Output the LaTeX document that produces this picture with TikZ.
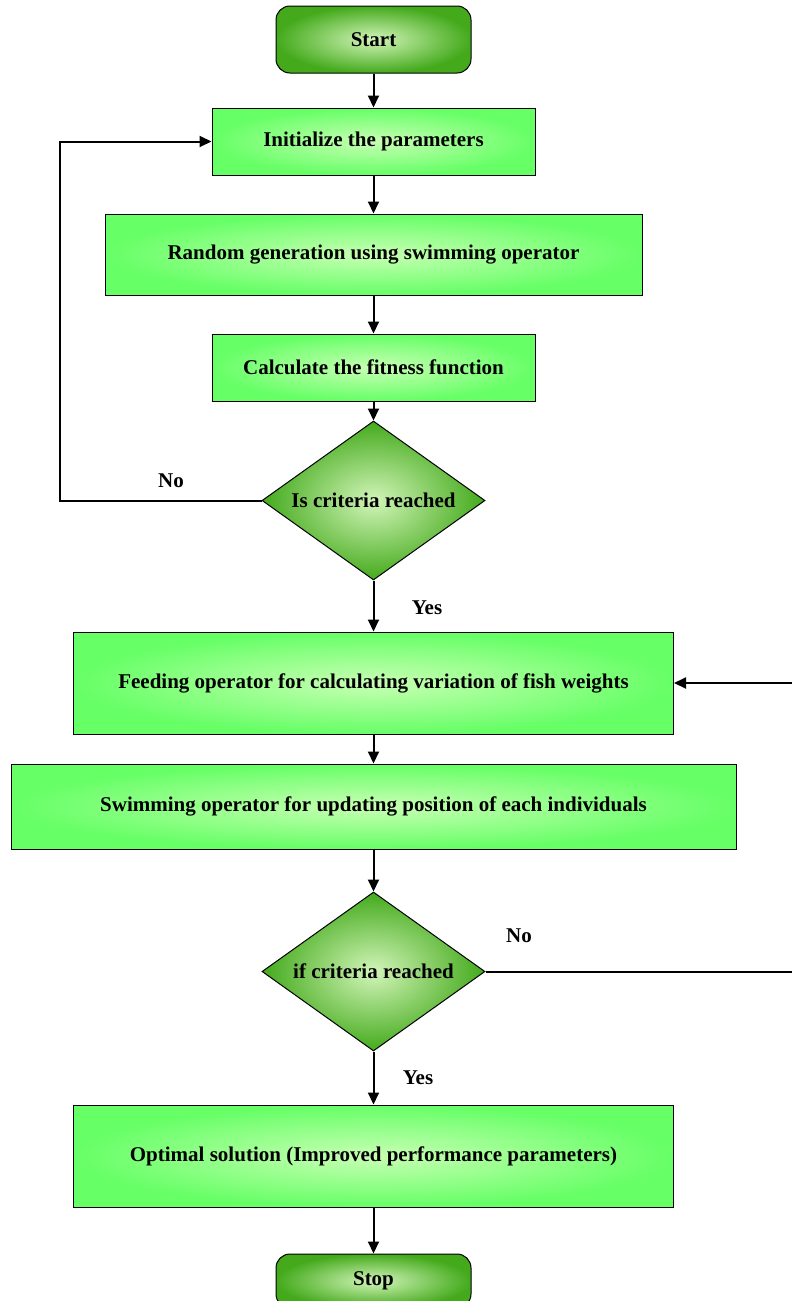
\documentclass[tikz,border=0pt]{standalone}
\usepackage{fontspec}
\setmainfont{Liberation Serif}
\usetikzlibrary{shapes.geometric,arrows.meta}
\definecolor{boxin}{HTML}{C8FFB4}
\definecolor{boxout}{HTML}{66FF66}
\definecolor{termin}{HTML}{D2F5B9}
\definecolor{termout}{HTML}{44AA1C}

\begin{document}
\begin{tikzpicture}[x=0.5pt,y=-0.5pt,
    font=\fontsize{10.5}{12.6}\selectfont\bfseries,
    box/.style={draw,line width=0.5pt,inner color=boxin,outer color=boxout,align=center},
    term/.style={draw,line width=0.5pt,rounded corners=7pt,inner color=termin,outer color=termout,
      minimum width=97.5pt,minimum height=33.5pt},
    decide/.style={draw,diamond,aspect=1.4,line width=0.5pt,inner color=termin,outer color=termout,
      minimum width=111.5pt,minimum height=79.5pt,inner sep=0pt},
    arr/.style={line width=1pt,-{Triangle[length=6pt,width=5.5pt]}}]
          \useasboundingbox (0,0) rectangle (792,1301);
          \node[term] (start) at (373.5,39.5) {Start};
          \node[box,minimum width=161.5pt,minimum height=33.5pt] (init) at (373.5,141.5)
            {Initialize the parameters};
          \node[box,minimum width=268.5pt,minimum height=40.5pt] (rand) at (373.5,254.5)
            {Random generation using swimming operator};
          \node[box,minimum width=161.5pt,minimum height=33.5pt] (fit) at (373.5,367.5)
            {Calculate the fitness function};
          \node[decide] (crit1) at (373.5,500.5) {Is criteria reached};
          \node[box,minimum width=300pt,minimum height=51pt] (feed) at (373.5,683)
            {Feeding operator for calculating variation of fish weights};
          \node[box,minimum width=362.5pt,minimum height=42.5pt] (swim) at (373.5,806.5)
            {Swimming operator for updating position of each individuals};
          \node[decide] (crit2) at (373.5,971.5) {if criteria reached};
          \node[box,minimum width=300pt,minimum height=51pt] (opt) at (373.5,1156)
            {Optimal solution (Improved performance parameters)};
          \node[term,minimum height=27pt] (stop) at (373.5,1281) {Stop};
          \draw[arr] (start) -- (init);
          \draw[arr] (init) -- (rand);
          \draw[arr] (rand) -- (fit);
          \draw[arr] (fit) -- (crit1);
          \draw[arr] (crit1.west) -- ++(-202,0) |- (init.west);
          \node (no1) at (171,481) {No};
          \draw[arr] (crit1) -- (feed);
          \node (yes1) at (427,608) {Yes};
          \draw[arr] (feed) -- (swim);
          \draw[arr] (swim) -- (crit2);
          \draw[arr] (crit2.east) -- ++(310,0) |- (feed.east);
          \node (no2) at (519,936) {No};
          \draw[arr] (crit2) -- (opt);
          \node (yes2) at (418,1078) {Yes};
          \draw[arr] (opt) -- (stop);
        \end{tikzpicture}
\end{document}
